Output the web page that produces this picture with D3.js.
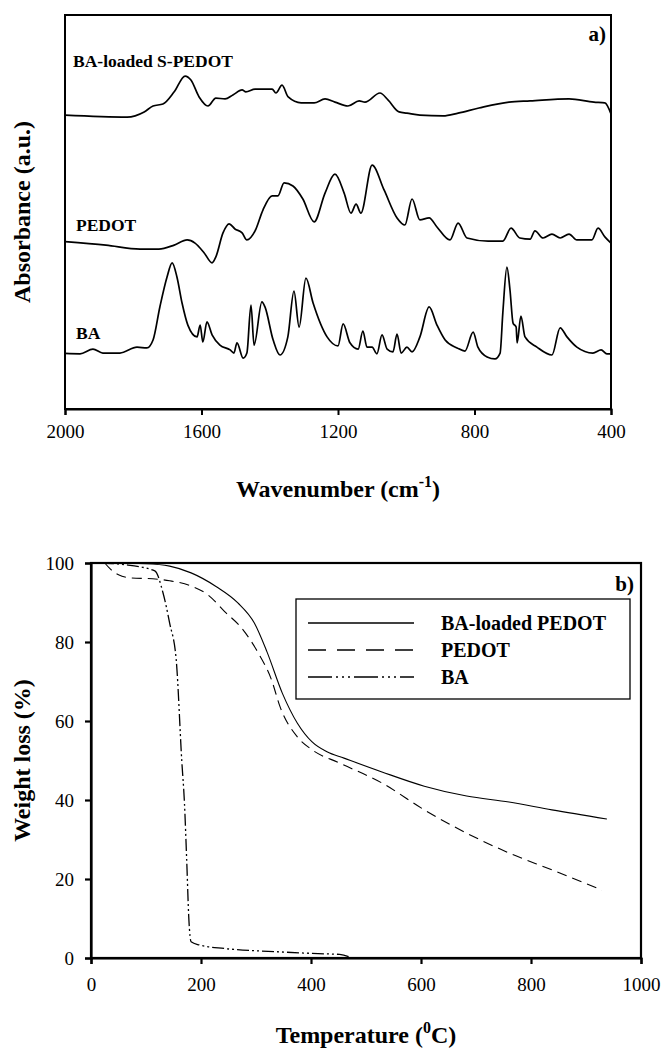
<!DOCTYPE html>
<html><head><meta charset="utf-8">
<script src="https://cdn.jsdelivr.net/npm/d3@7/dist/d3.min.js"></script>
<style>html,body{margin:0;padding:0;background:#fff;}svg{display:block;}</style>
</head><body>
<svg id="chart" width="666" height="1050"></svg>
<script>
// ---------- Panel a) FTIR spectra (wavenumber cm-1, absorbance a.u.) ----------
const wnTicks = [2000, 1600, 1200, 800, 400];
const spedotSpectrum = [[2000,74.6],[1818,74.1],[1768,75.4],[1742,76.9],[1713,77.4],[1680,80.5],[1648,84.5],[1631,83.5],[1607,79.2],[1581,76.9],[1558,78.9],[1531,78.7],[1508,79.7],[1481,81.0],[1470,80.5],[1443,81.2],[1393,81.2],[1382,80.2],[1364,82.2],[1346,79.2],[1308,77.7],[1270,77.7],[1238,78.7],[1209,77.9],[1171,76.9],[1138,78.2],[1121,77.9],[1077,80.2],[1053,78.4],[1021,75.4],[998,75.1],[960,74.6],[892,74.4],[848,75.1],[787,76.4],[699,77.9],[637,78.2],[523,78.7],[450,77.9],[418,77.7],[400,74.9]];
const pedotSpectrum = [[2000,42.5],[1880,41.6],[1780,40.6],[1725,40.6],[1680,41.6],[1642,42.9],[1619,42.1],[1592,39.6],[1569,37.1],[1558,38.6],[1537,44.7],[1519,47.0],[1502,45.7],[1481,44.7],[1467,42.9],[1443,45.2],[1420,50.5],[1393,54.1],[1376,54.1],[1358,57.4],[1332,56.6],[1303,53.3],[1270,47.5],[1238,54.8],[1209,59.6],[1182,54.8],[1162,49.7],[1147,52.0],[1133,49.7],[1100,61.9],[1065,55.6],[1027,48.5],[1004,46.7],[983,53.3],[960,48.0],[933,48.5],[910,46.2],[872,42.9],[848,47.2],[822,43.4],[760,42.6],[717,42.6],[693,45.9],[667,43.4],[637,43.1],[623,45.2],[599,43.4],[573,44.4],[549,43.4],[523,44.4],[500,42.9],[456,42.9],[438,45.9],[418,43.7],[400,42.1]];
const baSpectrum = [[2000,14.1],[1956,14.0],[1918,15.2],[1889,14.2],[1839,14.2],[1789,15.7],[1760,15.5],[1742,17.5],[1722,25.9],[1701,33.5],[1686,37.1],[1672,33.5],[1657,26.9],[1640,21.3],[1613,18.3],[1604,21.3],[1596,17.0],[1584,22.1],[1569,18.8],[1546,16.2],[1516,15.0],[1505,14.2],[1496,16.8],[1478,12.9],[1467,14.2],[1455,26.4],[1446,16.2],[1423,27.2],[1414,25.9],[1390,17.5],[1370,13.7],[1347,18.3],[1329,29.9],[1314,20.8],[1294,33.2],[1273,26.9],[1232,18.3],[1200,16.0],[1185,21.6],[1165,16.8],[1141,15.2],[1127,19.8],[1115,15.7],[1100,15.7],[1086,14.0],[1071,18.8],[1056,15.2],[1039,14.5],[1027,19.0],[1015,14.2],[998,15.7],[983,14.5],[960,18.3],[933,25.9],[910,21.3],[886,17.5],[851,15.5],[828,14.7],[804,19.5],[790,15.7],[763,13.2],[740,12.7],[725,14.2],[717,24.4],[705,36.0],[696,30.2],[687,21.8],[678,20.8],[675,16.8],[664,23.6],[652,18.3],[617,15.7],[573,13.7],[549,20.6],[529,18.3],[500,15.7],[453,14.2],[429,15.0],[412,14.0],[400,14.0]];
const spectraLabels = ["BA-loaded S-PEDOT", "PEDOT", "BA"];

// ---------- Panel b) TGA curves (temperature °C, weight %) ----------
const tempTicks = [0, 200, 400, 600, 800, 1000];
const weightTicks = [0, 20, 40, 60, 80, 100];
const tgaSeriesNames = ["BA-loaded PEDOT", "PEDOT", "BA"];
const tgaBaLoaded = [[25,100],[100,99.8],[143,99.2],[182,97.5],[228,94],[267,89.9],[297,84.8],[320,77.5],[348,67],[375,59.5],[402,54.7],[429,52.2],[460,50.6],[529,47.1],[606,43.5],[683,41.0],[760,39.5],[838,37.5],[938,35.2]];
const tgaPedot = [[25,100],[35,98.5],[50,97],[74,96.2],[112,96],[143,95.5],[182,94.2],[213,91.9],[243,87.7],[274,83.5],[305,77],[328,70.5],[344,63.5],[375,56],[402,52.7],[451,49.4],[529,44.3],[606,37.5],[683,31.6],[760,26.6],[838,22.3],[929,17.2]];
const tgaBa = [[20,100],[60,99.6],[116,98],[131,92.4],[143,84.8],[155,75.4],[165,50],[170,39],[174,24.8],[178,9.6],[182,4.1],[197,3.3],[243,2.4],[336,1.6],[413,1.1],[452,0.9],[475,0]];

const svg = d3.select("#chart");
const serif = "'Liberation Serif','Times New Roman',serif";

// ===== Panel a =====
const A = {left:65, right:611, top:15, bottom:409};
const xA = d3.scaleLinear().domain([2000, 400]).range([A.left, A.right]);
const yA = d3.scaleLinear().domain([0, 100]).range([A.bottom, A.top]);
const gA = svg.append("g");
gA.append("rect").attr("x",A.left).attr("y",A.top).attr("width",A.right-A.left).attr("height",A.bottom-A.top)
  .attr("fill","none").attr("stroke","#000").attr("stroke-width",2);
const axA = gA.append("g").attr("transform",`translate(0,${A.bottom})`)
  .call(d3.axisBottom(xA).tickValues(wnTicks).tickSize(6).tickPadding(10).tickFormat(d3.format("d")));
axA.select(".domain").attr("stroke-width",2);
axA.selectAll(".tick line").attr("stroke-width",2);
axA.selectAll("text").attr("font-family",serif).attr("font-size",19).attr("fill","#000");
const lineA = d3.line().x(d=>xA(d[0])).y(d=>yA(d[1])).curve(d3.curveMonotoneX);
[spedotSpectrum, pedotSpectrum, baSpectrum].forEach(s=>{
  gA.append("path").datum(s).attr("d",lineA).attr("fill","none").attr("stroke","#000").attr("stroke-width",1.7).attr("stroke-linejoin","round");
});
const labA = [[73,67],[76,231],[76,339]];
spectraLabels.forEach((t,i)=>{
  gA.append("text").attr("x",labA[i][0]).attr("y",labA[i][1]).text(t)
    .attr("font-family",serif).attr("font-weight","bold").attr("font-size",17.5);
});
gA.append("text").attr("x",606).attr("y",41).attr("text-anchor","end").text("a)")
  .attr("font-family",serif).attr("font-weight","bold").attr("font-size",21);
const titA = gA.append("text").attr("x",(A.left+A.right)/2).attr("y",497).attr("text-anchor","middle")
  .attr("font-family",serif).attr("font-weight","bold").attr("font-size",24);
titA.append("tspan").text("Wavenumber (cm");
titA.append("tspan").attr("dy",-10).attr("font-size",16).text("-1");
titA.append("tspan").attr("dy",10).text(")");
gA.append("text").attr("transform",`translate(30,${(A.top+A.bottom)/2}) rotate(-90)`).attr("text-anchor","middle")
  .attr("font-family",serif).attr("font-weight","bold").attr("font-size",24).text("Absorbance (a.u.)");

// ===== Panel b =====
const B = {left:91, right:641, top:563, bottom:958};
const xB = d3.scaleLinear().domain([0, 1000]).range([B.left, B.right]);
const yB = d3.scaleLinear().domain([0, 100]).range([B.bottom, B.top]);
const gB = svg.append("g");
gB.append("rect").attr("x",B.left).attr("y",B.top).attr("width",B.right-B.left).attr("height",B.bottom-B.top)
  .attr("fill","none").attr("stroke","#000").attr("stroke-width",2.2);
const axBx = gB.append("g").attr("transform",`translate(0,${B.bottom})`)
  .call(d3.axisBottom(xB).tickValues(tempTicks).tickSize(6).tickPadding(14).tickFormat(d3.format("d")));
const axBy = gB.append("g").attr("transform",`translate(${B.left},0)`)
  .call(d3.axisLeft(yB).tickValues(weightTicks).tickSize(6).tickPadding(11).tickFormat(d3.format("d")));
[axBx, axBy].forEach(ax=>{
  ax.select(".domain").attr("stroke-width",2.2);
  ax.selectAll(".tick line").attr("stroke-width",2.2);
  ax.selectAll("text").attr("font-family",serif).attr("font-size",19).attr("fill","#000");
});
const lineB = d3.line().x(d=>xB(d[0])).y(d=>yB(d[1])).curve(d3.curveMonotoneX);
const styles = [
  {dash:null, legDash:null, w:1.1},
  {dash:"10,6", legDash:"18,11", w:1.1},
  {dash:"12,3,2,3,2,3", legDash:"24,4,2,4,2,4,2,4", w:1.3}
];
[tgaBaLoaded, tgaPedot, tgaBa].forEach((s,i)=>{
  gB.append("path").datum(s).attr("d",lineB).attr("fill","none").attr("stroke","#000")
    .attr("stroke-width",styles[i].w).attr("stroke-dasharray",styles[i].dash);
});
// legend
const leg = gB.append("g");
leg.append("rect").attr("x",296).attr("y",599).attr("width",334).attr("height",100)
  .attr("fill","#fff").attr("stroke","#000").attr("stroke-width",1.3);
tgaSeriesNames.forEach((n,i)=>{
  const y = 623 + i*27;
  leg.append("line").attr("x1",308).attr("x2",414).attr("y1",y).attr("y2",y).attr("stroke","#000")
    .attr("stroke-width",styles[i].w+0.3).attr("stroke-dasharray",styles[i].legDash);
  leg.append("text").attr("x",441).attr("y",y+7).text(n)
    .attr("font-family",serif).attr("font-weight","bold").attr("font-size",20);
});
gB.append("text").attr("x",634).attr("y",591).attr("text-anchor","end").text("b)")
  .attr("font-family",serif).attr("font-weight","bold").attr("font-size",21);
const titB = gB.append("text").attr("x",(B.left+B.right)/2).attr("y",1043).attr("text-anchor","middle")
  .attr("font-family",serif).attr("font-weight","bold").attr("font-size",24);
titB.append("tspan").text("Temperature (");
titB.append("tspan").attr("dy",-10).attr("font-size",16).text("0");
titB.append("tspan").attr("dy",10).text("C)");
gB.append("text").attr("transform",`translate(30,${(B.top+B.bottom)/2}) rotate(-90)`).attr("text-anchor","middle")
  .attr("font-family",serif).attr("font-weight","bold").attr("font-size",24).text("Weight loss (%)");
</script>
</body></html>
